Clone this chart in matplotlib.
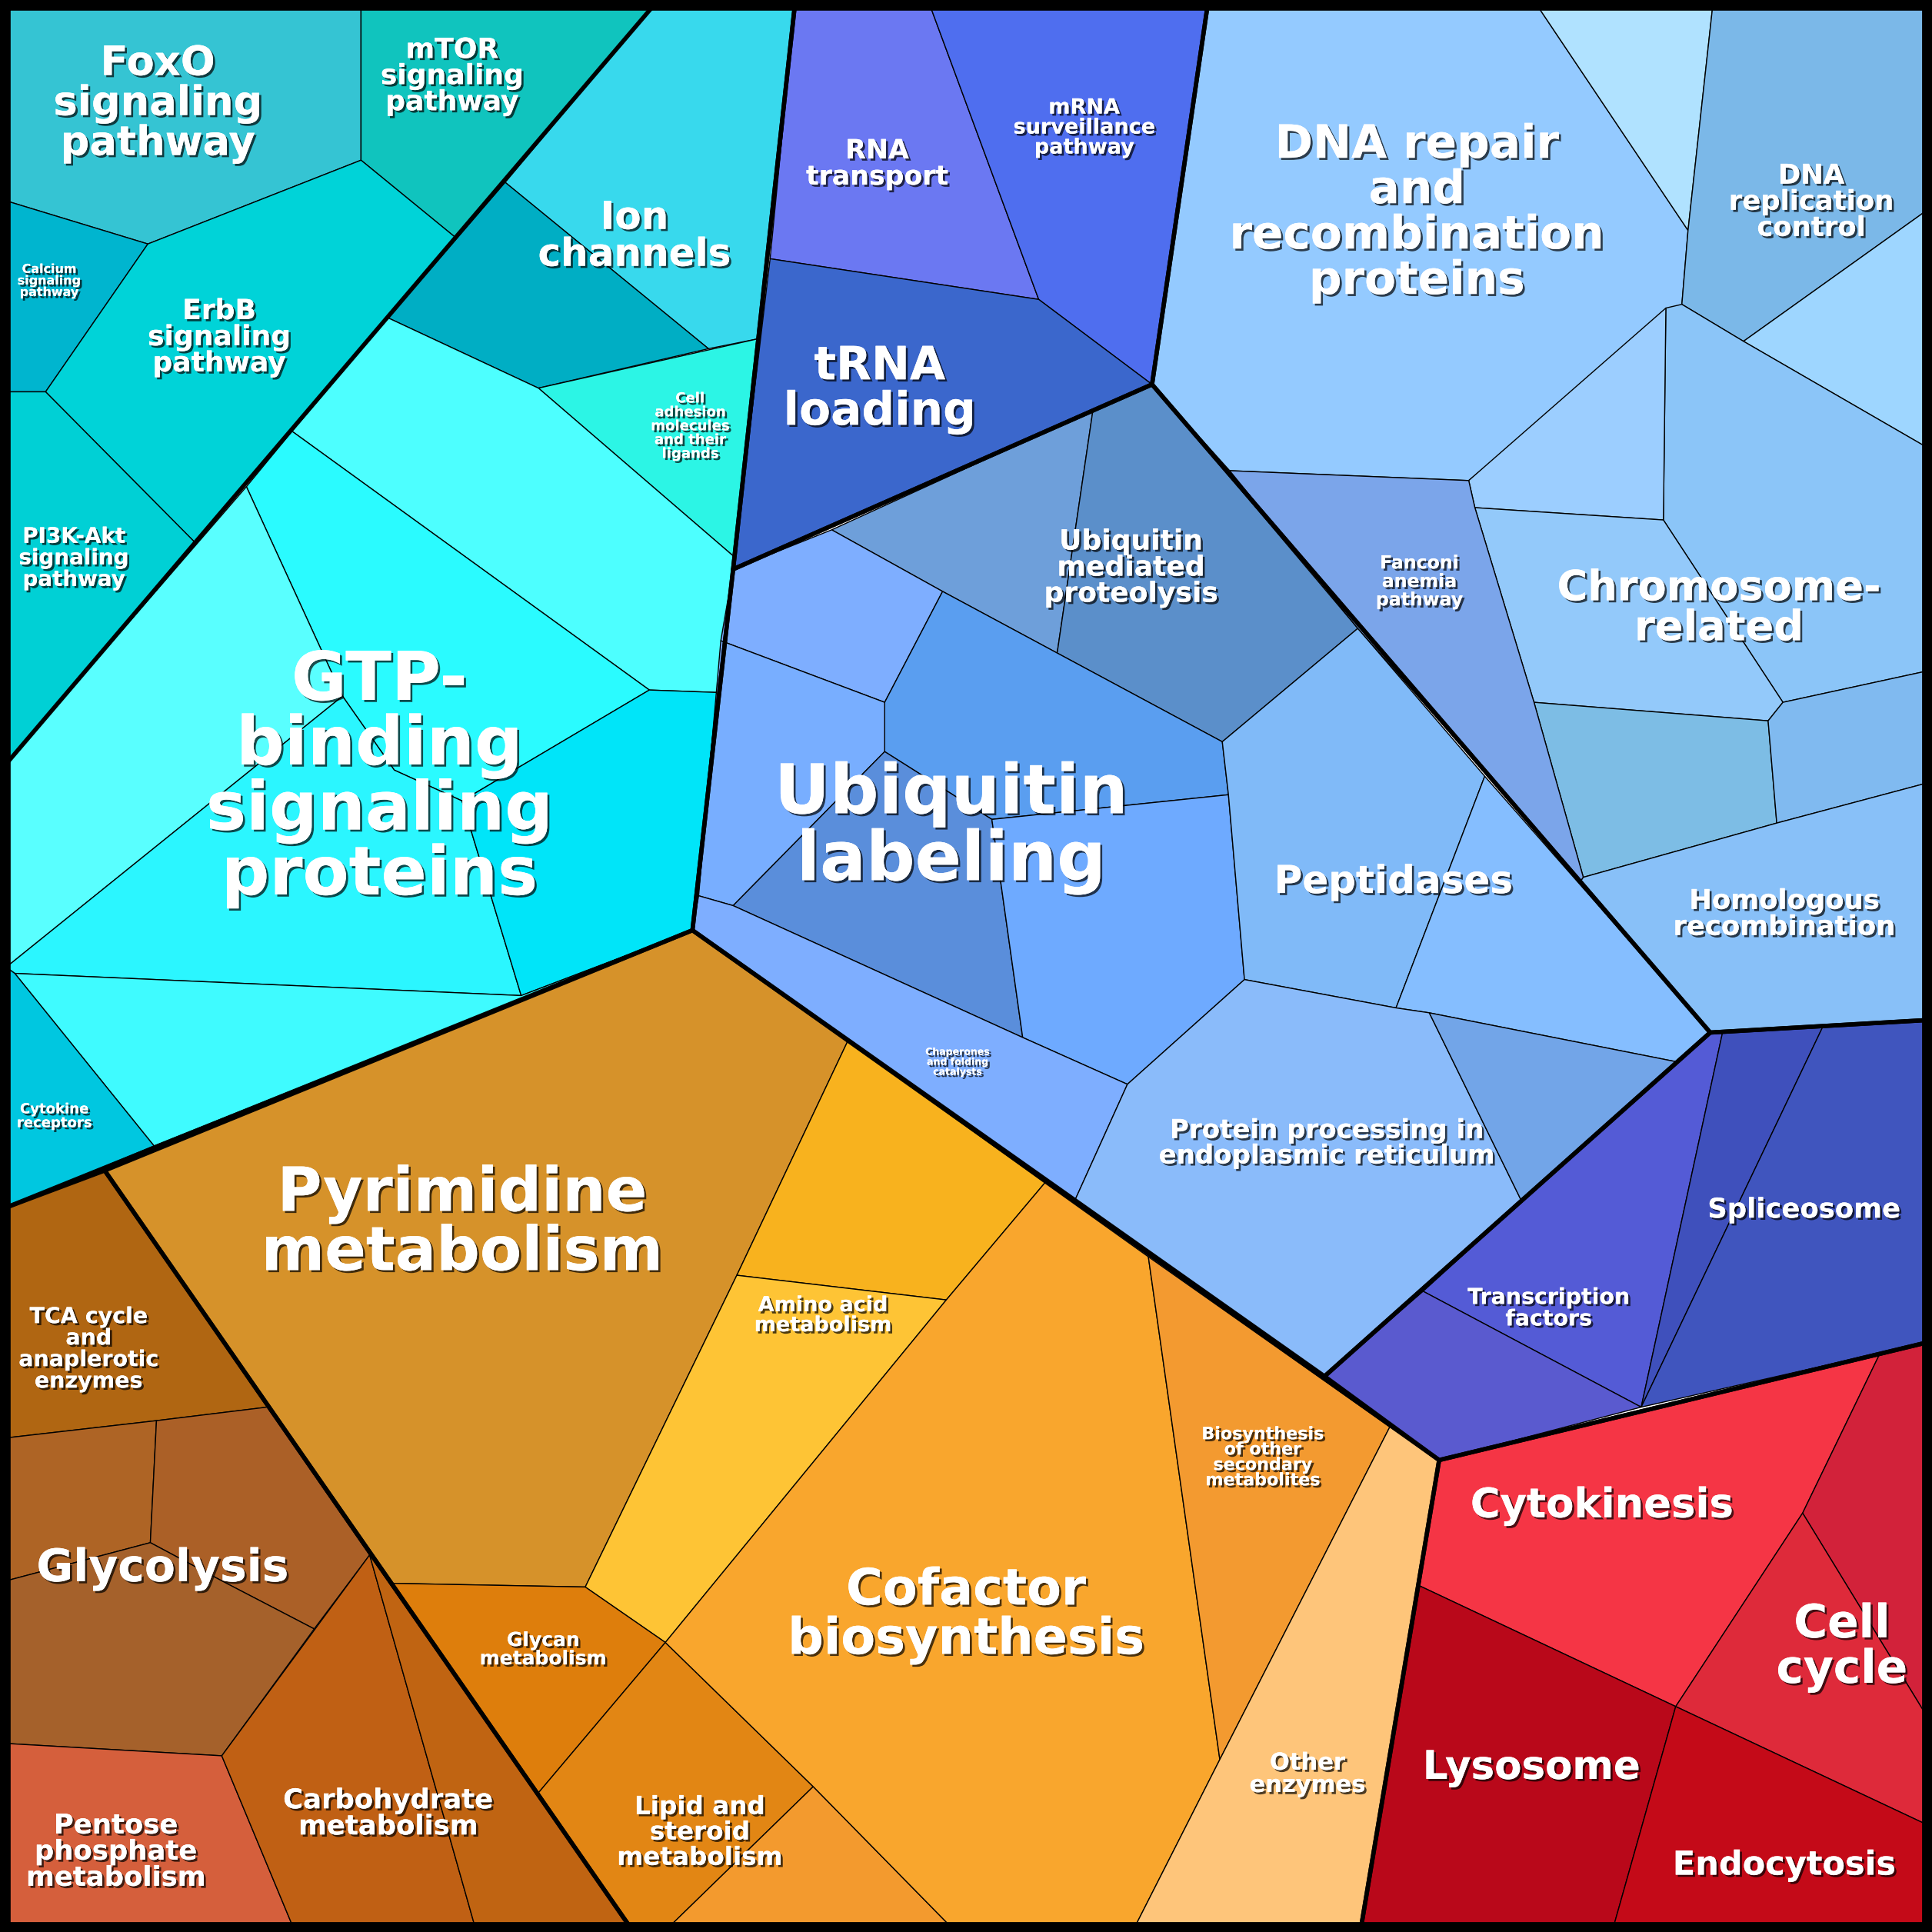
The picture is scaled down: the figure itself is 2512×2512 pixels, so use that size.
import matplotlib
matplotlib.use("Agg")
import matplotlib.pyplot as plt
import matplotlib.patheffects as pe

# Voronoi treemap cells: outline vertices (image coords, 1568 scale)
cell_polys = [
    # signalling (cyan)
    [(5, 5), (293, 5), (293, 130), (120, 198), (5, 163)],
    [(293, 5), (530, 5), (370, 193), (293, 130)],
    [(5, 163), (120, 198), (37, 318), (5, 318)],
    [(120, 198), (293, 130), (370, 193), (158, 440), (37, 318)],
    [(5, 318), (37, 318), (158, 440), (5, 620)],
    [(410, 148), (530, 5), (645, 5), (615, 275), (575, 283)],
    [(410, 148), (575, 283), (437, 315), (315, 258)],
    [(437, 315), (615, 275), (596, 452)],
    [(315, 258), (437, 315), (596, 452), (582, 562), (527, 560), (237, 350)],
    [(237, 350), (527, 560), (375, 650), (320, 625), (278, 565), (200, 395)],
    [(200, 395), (278, 565), (5, 785), (5, 620)],
    [(278, 565), (320, 625), (375, 650), (423, 808), (12, 790), (5, 785)],
    [(527, 560), (582, 562), (562, 755), (423, 808), (375, 650)],
    [(12, 790), (423, 808), (562, 755), (125, 930)],
    [(5, 785), (12, 790), (125, 930), (5, 980)],
    # RNA (blue)
    [(645, 5), (755, 5), (843, 243), (625, 210)],
    [(755, 5), (980, 5), (935, 312), (843, 243)],
    [(625, 210), (843, 243), (935, 312), (595, 462)],
    # ubiquitin
    [(675, 430), (887, 333), (858, 530), (765, 480)],
    [(887, 333), (935, 312), (1102, 510), (992, 602), (858, 530)],
    [(595, 462), (675, 430), (765, 480), (718, 570), (585, 520)],
    [(765, 480), (858, 530), (992, 602), (997, 645), (805, 665), (718, 610), (718, 570)],
    [(585, 520), (718, 570), (718, 610), (595, 735), (567, 727)],
    [(718, 610), (805, 665), (830, 842), (595, 735)],
    [(805, 665), (997, 645), (1010, 795), (915, 880), (830, 842)],
    [(567, 727), (595, 735), (830, 842), (915, 880), (872, 975), (562, 755)],
    [(992, 602), (1102, 510), (1205, 630), (1133, 818), (1010, 795), (997, 645)],
    [(1205, 630), (1388, 838), (1362, 862), (1160, 822), (1133, 818)],
    [(1010, 795), (1133, 818), (1160, 822), (1235, 975), (1075, 1117), (872, 975), (915, 880)],
    [(1160, 822), (1362, 862), (1235, 975)],
    # DNA (light blue)
    [(980, 5), (1248, 5), (1370, 187), (1365, 247), (1192, 390), (998, 382), (935, 312)],
    [(1248, 5), (1390, 5), (1370, 187)],
    [(1390, 5), (1562, 5), (1562, 172), (1415, 277), (1365, 247), (1370, 187)],
    [(1562, 172), (1562, 362), (1415, 277)],
    [(1352, 250), (1365, 247), (1415, 277), (1562, 362), (1562, 545), (1447, 570), (1350, 422)],
    [(1192, 390), (1352, 250), (1350, 422), (1197, 412)],
    [(1197, 412), (1350, 422), (1447, 570), (1435, 585), (1245, 570)],
    [(1245, 570), (1435, 585), (1442, 668), (1285, 712)],
    [(1435, 585), (1447, 570), (1562, 545), (1562, 636), (1442, 668)],
    [(998, 382), (1192, 390), (1197, 412), (1245, 570), (1285, 712), (1283, 715), (1102, 510)],
    [(1283, 715), (1285, 712), (1442, 668), (1562, 636), (1562, 828), (1388, 838)],
    # spliceosome (indigo)
    [(1362, 862), (1388, 838), (1398, 838), (1332, 1142), (1155, 1048), (1235, 975)],
    [(1155, 1048), (1332, 1142), (1168, 1185), (1075, 1117)],
    [(1398, 838), (1480, 832), (1332, 1142)],
    [(1480, 832), (1562, 828), (1562, 1090), (1332, 1142)],
    # red
    [(1168, 1185), (1525, 1100), (1463, 1228), (1360, 1385), (1152, 1287)],
    [(1525, 1100), (1562, 1090), (1562, 1390), (1463, 1228)],
    [(1463, 1228), (1562, 1390), (1562, 1480), (1360, 1385)],
    [(1152, 1287), (1360, 1385), (1310, 1562), (1105, 1562)],
    [(1360, 1385), (1562, 1480), (1562, 1562), (1310, 1562)],
    # orange
    [(85, 950), (562, 755), (688, 845), (598, 1035), (475, 1288), (318, 1285)],
    [(688, 845), (848, 960), (768, 1055), (598, 1035)],
    [(598, 1035), (768, 1055), (540, 1333), (475, 1288)],
    [(318, 1285), (475, 1288), (540, 1333), (437, 1455)],
    [(540, 1333), (660, 1450), (545, 1562), (510, 1562), (437, 1455)],
    [(660, 1450), (770, 1562), (545, 1562)],
    [(848, 960), (932, 1020), (990, 1428), (922, 1562), (770, 1562), (660, 1450), (540, 1333), (768, 1055)],
    [(932, 1020), (1128, 1158), (990, 1428)],
    [(1128, 1158), (1168, 1185), (1105, 1562), (922, 1562), (990, 1428)],
    # brown
    [(5, 980), (85, 950), (217, 1142), (127, 1153), (5, 1167)],
    [(5, 1167), (127, 1153), (122, 1252), (5, 1283)],
    [(127, 1153), (217, 1142), (300, 1262), (255, 1322), (180, 1283), (122, 1252)],
    [(5, 1283), (122, 1252), (180, 1283), (255, 1322), (180, 1425), (5, 1415)],
    [(5, 1415), (180, 1425), (237, 1562), (5, 1562)],
    [(180, 1425), (300, 1262), (385, 1562), (237, 1562)],
    [(300, 1262), (510, 1562), (385, 1562)],
]

cell_colors = [
    "#35C4D3", "#10C4BE", "#00B5CF", "#00D3D8", "#00D0D5", "#38D9ED", "#00AEC4",
    "#2CF5E5", "#4DFFFF", "#2AFBFF", "#59FFFF", "#2BF6FF", "#00E5F9", "#3FFBFF", "#00C7E0",
    "#6B78F2", "#4F6EEF", "#3B67CC",
    "#6E9FDA", "#5B8FCA", "#7EAEFF", "#5A9EF0", "#78AEFF", "#5A8EDB", "#6EAAFF",
    "#7EAEFF", "#80BAF8", "#85BEFF", "#8ABBFA", "#72A5E8",
    "#94CAFF", "#B0E2FF", "#7BB8E8", "#9ED6FF", "#8BC5F8", "#9CCEFF", "#93C9FA",
    "#7DBDE5", "#80BAF0", "#7BA5EA", "#88C0F8",
    "#545BD6", "#5A5ACF", "#3F50BC", "#4055BE",
    "#F53545", "#D2223A", "#DE2A3A", "#B9081A", "#C40A18",
    "#D6922A", "#F8B21E", "#FEC435", "#DE7E0C", "#E28614", "#F39A2E", "#F9A62D",
    "#F39A30", "#FEC57A",
    "#B06612", "#AE6425", "#AB6027", "#A5612B", "#D55F3C", "#C06014", "#C06412",
]

group_polys = [
    [(5, 5), (645, 5), (595, 462), (562, 755), (5, 980)],
    [(645, 5), (980, 5), (935, 312), (595, 462)],
    [(980, 5), (1562, 5), (1562, 828), (1388, 838), (935, 312)],
    [(595, 462), (935, 312), (1388, 838), (1075, 1117), (562, 755)],
    [(1388, 838), (1562, 828), (1562, 1090), (1168, 1185), (1075, 1117)],
    [(1168, 1185), (1562, 1090), (1562, 1562), (1105, 1562)],
    [(85, 950), (562, 755), (1168, 1185), (1105, 1562), (510, 1562)],
    [(5, 980), (85, 950), (510, 1562), (5, 1562)],
]
group_lines = [[(530, 5), (5, 620)]]

label_texts = [
    "FoxO\nsignaling\npathway", "mTOR\nsignaling\npathway", "Calcium\nsignaling\npathway",
    "ErbB\nsignaling\npathway", "PI3K-Akt\nsignaling\npathway", "Ion\nchannels",
    "Cell\nadhesion\nmolecules\nand their\nligands", "GTP-\nbinding\nsignaling\nproteins",
    "Cytokine\nreceptors", "RNA\ntransport", "mRNA\nsurveillance\npathway", "tRNA\nloading",
    "Ubiquitin\nmediated\nproteolysis", "Ubiquitin\nlabeling", "Chaperones\nand folding\ncatalysts",
    "Peptidases", "Protein processing in\nendoplasmic reticulum", "DNA repair\nand\nrecombination\nproteins",
    "DNA\nreplication\ncontrol", "Chromosome-\nrelated", "Fanconi\nanemia\npathway",
    "Homologous\nrecombination", "Transcription\nfactors", "Spliceosome", "Cytokinesis",
    "Cell\ncycle", "Lysosome", "Endocytosis", "Pyrimidine\nmetabolism", "Amino acid\nmetabolism",
    "Glycan\nmetabolism", "Lipid and\nsteroid\nmetabolism", "Cofactor\nbiosynthesis",
    "Biosynthesis\nof other\nsecondary\nmetabolites", "Other\nenzymes", "TCA cycle\nand\nanaplerotic\nenzymes",
    "Glycolysis", "Pentose\nphosphate\nmetabolism", "Carbohydrate\nmetabolism",
]
label_x = [128, 367, 40, 178, 60, 515, 560, 308, 44, 712, 880, 714, 918, 772, 777, 1131, 1077,
           1150, 1470, 1395, 1152, 1448, 1257, 1464, 1300, 1495, 1243, 1448, 375, 668, 441, 568,
           784, 1025, 1061, 72, 132, 94, 315]
label_y = [84, 62, 228, 274, 453, 192, 346, 632, 906, 133, 104, 316, 461, 672, 862, 716, 928,
           173, 164, 494, 472, 742, 1062, 982, 1222, 1337, 1435, 1514, 993, 1068, 1339, 1487,
           1311, 1183, 1440, 1095, 1273, 1503, 1472]
label_sizes = [38, 26, 11.5, 26, 20, 36, 13, 63, 13, 25, 19.5, 43, 26, 64, 9, 36, 24.5, 43,
               25.5, 39, 17, 25.5, 20.5, 25.5, 38, 43, 37, 31, 57, 19.5, 18, 23.5, 47, 16,
               22, 20.5, 42, 25.5, 25.5]

fig = plt.figure(figsize=(25.12, 25.12), dpi=100)
ax = fig.add_axes([0, 0, 1, 1])
ax.set_xlim(0, 1568)
ax.set_ylim(1568, 0)
ax.axis("off")

for poly, col in zip(cell_polys, cell_colors):
    xs, ys = zip(*poly)
    ax.fill(xs, ys, facecolor=col, edgecolor="black", linewidth=1.0, zorder=1)

for poly in group_polys:
    xs, ys = zip(*poly)
    ax.fill(xs, ys, facecolor="none", edgecolor="black", linewidth=4,
            joinstyle="round", zorder=2)
for line in group_lines:
    xs, ys = zip(*line)
    ax.plot(xs, ys, color="black", linewidth=4, zorder=2)

ax.plot([3, 1565, 1565, 3, 3], [3, 3, 1565, 1565, 3], color="black", linewidth=12, zorder=3)

shadow = [pe.withSimplePatchShadow(offset=(2, -2), shadow_rgbFace="black", alpha=0.7), pe.Normal()]
for txt, x, y, s in zip(label_texts, label_x, label_y, label_sizes):
    ax.text(x, y, txt, ha="center", va="center", fontsize=s, fontweight="bold",
            color="white", linespacing=1.0, path_effects=shadow, zorder=4)

fig.savefig("out.png", dpi=100)
